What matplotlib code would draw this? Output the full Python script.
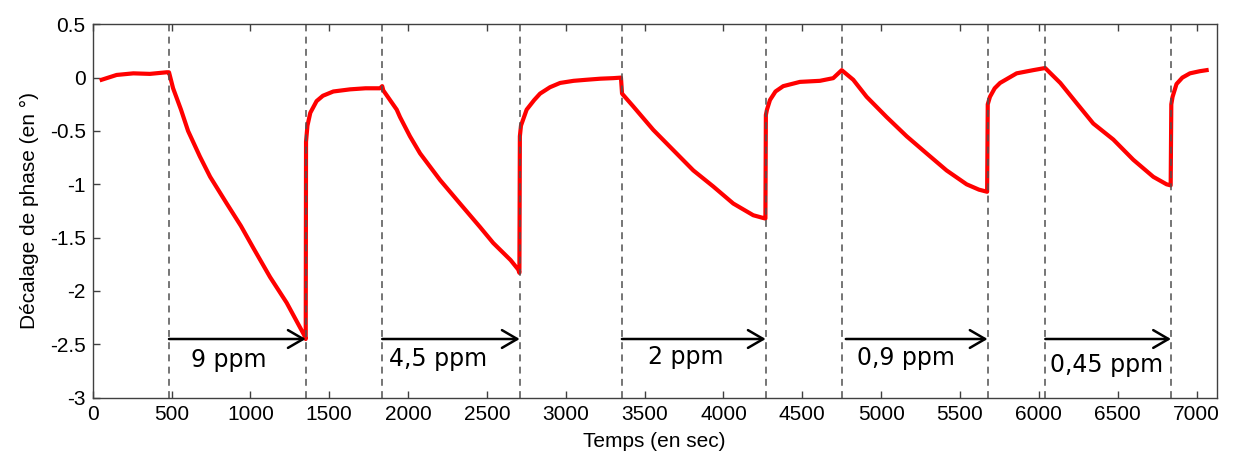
import numpy as np
import matplotlib
matplotlib.use('Agg')
import matplotlib.pyplot as plt
from matplotlib.ticker import FuncFormatter

plt.rcParams['axes.unicode_minus'] = False

# Phase shift signal (time in s, phase in degrees)
time_s = [
    57, 152, 258, 363, 469, 484,
    510, 560, 605, 680, 745, 850, 940, 1020, 1125, 1230, 1340, 1351,
    1353, 1362, 1380, 1420, 1460, 1526, 1632, 1730, 1822, 1836,
    1843, 1928, 1949, 2012, 2076, 2203, 2329, 2456, 2540, 2650, 2699, 2706,
    2709, 2716, 2752, 2800, 2837, 2900, 2964, 3050, 3132, 3220, 3301, 3350,
    3357, 3428, 3555, 3682, 3809, 3935, 4062, 4189, 4263, 4266,
    4269, 4276, 4295, 4330, 4379, 4485, 4612, 4696, 4750,
    4823, 4908, 5035, 5162, 5288, 5415, 5542, 5620, 5672,
    5676, 5690, 5720, 5754, 5859, 5964, 6040,
    6136, 6240, 6345, 6472, 6599, 6726, 6810, 6836,
    6840, 6848, 6873, 6910, 6958, 7020, 7064,
]
phase_deg = [
    -0.02, 0.025, 0.04, 0.035, 0.05, 0.05,
    -0.1, -0.3, -0.5, -0.74, -0.93, -1.18, -1.39, -1.6, -1.87, -2.11, -2.41, -2.45,
    -0.6, -0.45, -0.33, -0.22, -0.17, -0.13, -0.11, -0.1, -0.1, -0.08,
    -0.12, -0.3, -0.37, -0.55, -0.71, -0.96, -1.18, -1.4, -1.55, -1.71, -1.8, -1.83,
    -0.55, -0.45, -0.3, -0.21, -0.15, -0.09, -0.05, -0.03, -0.02, -0.01, -0.005, 0.0,
    -0.15, -0.27, -0.49, -0.68, -0.87, -1.02, -1.18, -1.29, -1.32, -1.32,
    -0.35, -0.3, -0.21, -0.13, -0.08, -0.04, -0.03, -0.005, 0.07,
    -0.02, -0.18, -0.37, -0.55, -0.71, -0.87, -1.0, -1.05, -1.07,
    -0.25, -0.18, -0.1, -0.05, 0.04, 0.07, 0.09,
    -0.05, -0.24, -0.43, -0.58, -0.77, -0.93, -1.0, -1.01,
    -0.25, -0.18, -0.06, 0.0, 0.04, 0.06, 0.07,
]

# Injection start / stop times (dashed lines)
event_times = [484, 1351, 1836, 2708, 3356, 4268, 4750, 5675, 6041, 6838]

# Concentration arrows: start, end, label, label position
arrow_start = [484, 1836, 3356, 4776, 6041]
arrow_end = [1351, 2708, 4268, 5675, 6838]
arrow_y = -2.45
conc_labels = ['9 ppm', '4,5 ppm', '2 ppm', '0,9 ppm', '0,45 ppm']
label_x = [866, 2190, 3758, 5156, 6430]
label_y = [-2.65, -2.64, -2.62, -2.63, -2.69]

fig = plt.figure(figsize=(12.34, 4.58), dpi=100)
ax = fig.add_axes([0.0751, 0.1317, 0.9109, 0.8153])

ax.plot(time_s, phase_deg, color='red', linewidth=3.0, solid_joinstyle='round')

for t in event_times:
    ax.axvline(t, color='#505050', linestyle=(0, (4.5, 3.5)), linewidth=1.1)

for x0, x1 in zip(arrow_start, arrow_end):
    ax.annotate('', xy=(x1, arrow_y), xytext=(x0, arrow_y),
                arrowprops=dict(arrowstyle='->,head_length=0.55,head_width=0.32',
                                color='black', lw=1.8, mutation_scale=20,
                                shrinkA=0, shrinkB=0))

for lab, lx, ly in zip(conc_labels, label_x, label_y):
    ax.text(lx, ly, lab, fontsize=17, family='DejaVu Sans',
            ha='center', va='center')

ax.set_xlim(0, 7128)
ax.set_ylim(-3, 0.5)
ax.set_xticks(np.arange(0, 7001, 500))
ax.set_yticks(np.arange(-3, 0.51, 0.5))
ax.yaxis.set_major_formatter(FuncFormatter(lambda v, p: '%g' % round(v, 2)))

ax.tick_params(direction='in', top=True, right=False, length=5,
               width=1, color='#404040', labelsize=15, pad=5)
for lab in ax.get_xticklabels() + ax.get_yticklabels():
    lab.set_family('Liberation Sans')
for sp in ax.spines.values():
    sp.set_color('#404040')
    sp.set_linewidth(1.0)

ax.set_xlabel('Temps (en sec)', fontsize=15, family='Liberation Sans', labelpad=6)
ax.set_ylabel('Décalage de phase (en °)', fontsize=15, family='Liberation Sans', labelpad=8)

fig.savefig('out.png', dpi=100)
